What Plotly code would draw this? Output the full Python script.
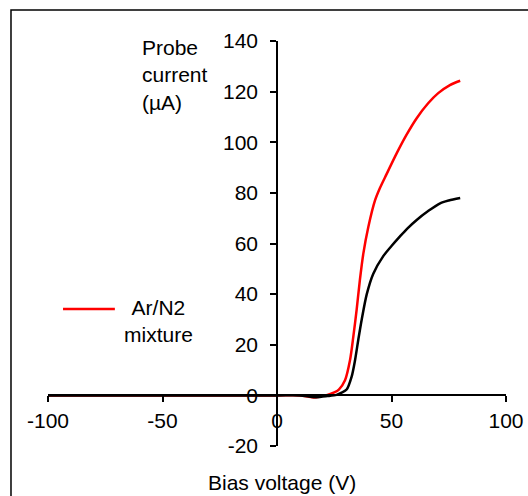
import plotly.graph_objects as go

# Bias voltage (V) vs probe current (uA)
black_v = [-100, -50, 0, 10, 17, 22, 26, 28, 30.4, 32.6, 34.1, 35.5, 37, 39.2,
           42, 46.4, 50, 53.7, 57, 61, 66, 71, 75, 80]
black_i = [0, 0, 0, 0, -0.7, -0.3, 0.2, 1, 2.3, 7.4, 14, 22, 30, 40,
           48, 55, 59, 62.8, 66, 69.3, 72.8, 75.8, 77, 78]

red_v = [-100, -50, 0, 10, 16, 22, 25, 27, 29.7, 31.9, 33.3, 34.8, 36.2, 37.7,
         39.9, 42.8, 45, 47.9, 52.3, 56.6, 61, 66, 70.4, 75.5, 80]
red_i = [0, 0, 0, 0, -0.8, 0.2, 1.2, 2.3, 6, 14, 23, 34, 45.6, 56,
         66.6, 77, 82, 87.5, 95.7, 103, 109.5, 115.4, 119.4, 122.6, 124.3]

x_ticks = [-100, -50, 0, 50, 100]
x_tick_labels = ['-100', '-50', '0', '50', '100']
y_ticks = [-20, 0, 20, 40, 60, 80, 100, 120, 140]
y_tick_labels = ['-20', '0', '20', '40', '60', '80', '100', '120', '140']

font = 'Liberation Sans, Arial, sans-serif'

fig = go.Figure()
fig.add_trace(go.Scatter(x=red_v, y=red_i, mode='lines', name='Ar/N2 mixture',
                         line=dict(color='#ff0000', width=2.5, shape='spline', smoothing=0.8)))
fig.add_trace(go.Scatter(x=black_v, y=black_i, mode='lines', name='Ar',
                         line=dict(color='#000000', width=2.5, shape='spline', smoothing=0.8)))

axis_common = dict(
    showgrid=False, zeroline=False, showline=True, linecolor='black', linewidth=1.5,
    ticks='outside', ticklen=6, tickwidth=1.5, tickcolor='black',
    tickfont=dict(family=font, size=21, color='black'),
    anchor='free', fixedrange=True, tickmode='array', automargin=False,
)

fig.update_layout(
    width=528, height=496,
    margin=dict(l=48, r=22, t=41, b=50),
    paper_bgcolor='white', plot_bgcolor='white',
    showlegend=False,
    xaxis=dict(range=[-100, 100], tickvals=x_ticks, ticktext=x_tick_labels,
               position=0.125, ticklabelstandoff=1, **axis_common),
    yaxis=dict(range=[-20, 140], tickvals=y_ticks, ticktext=y_tick_labels,
               position=0.5, ticklabelstandoff=8, **axis_common),
    shapes=[
        # outer frame
        dict(type='rect', xref='paper', yref='paper', x0=-0.0808, x1=1.1, y0=-0.2, y1=1.0765,
             line=dict(color='black', width=1.5), layer='below'),
        # legend sample line
        dict(type='line', xref='paper', yref='paper', x0=0.0328, x1=0.146, y0=0.338, y1=0.338,
             line=dict(color='#ff0000', width=2.5)),
    ],
    annotations=[
        dict(text='Probe<br>current<br>(µA)', xref='paper', yref='paper', x=0.2008, y=0.916,
             xanchor='left', yanchor='middle', align='left', showarrow=False,
             font=dict(family=font, size=21, color='black')),
        dict(text='Ar/N2<br>mixture', xref='paper', yref='paper', x=0.242, y=0.309,
             xanchor='center', yanchor='middle', align='center', showarrow=False,
             font=dict(family=font, size=21, color='black')),
        dict(text='Bias voltage (V)', xref='paper', yref='paper', x=0.511, y=-0.089,
             xanchor='center', yanchor='middle', showarrow=False,
             font=dict(family=font, size=21, color='black')),
    ],
)

# drop the browser's default body margin so the figure fills the window
fig.write_html('out.html', config={'displayModeBar': False},
               post_script="document.body.style.margin='0';document.body.style.overflow='hidden';")
